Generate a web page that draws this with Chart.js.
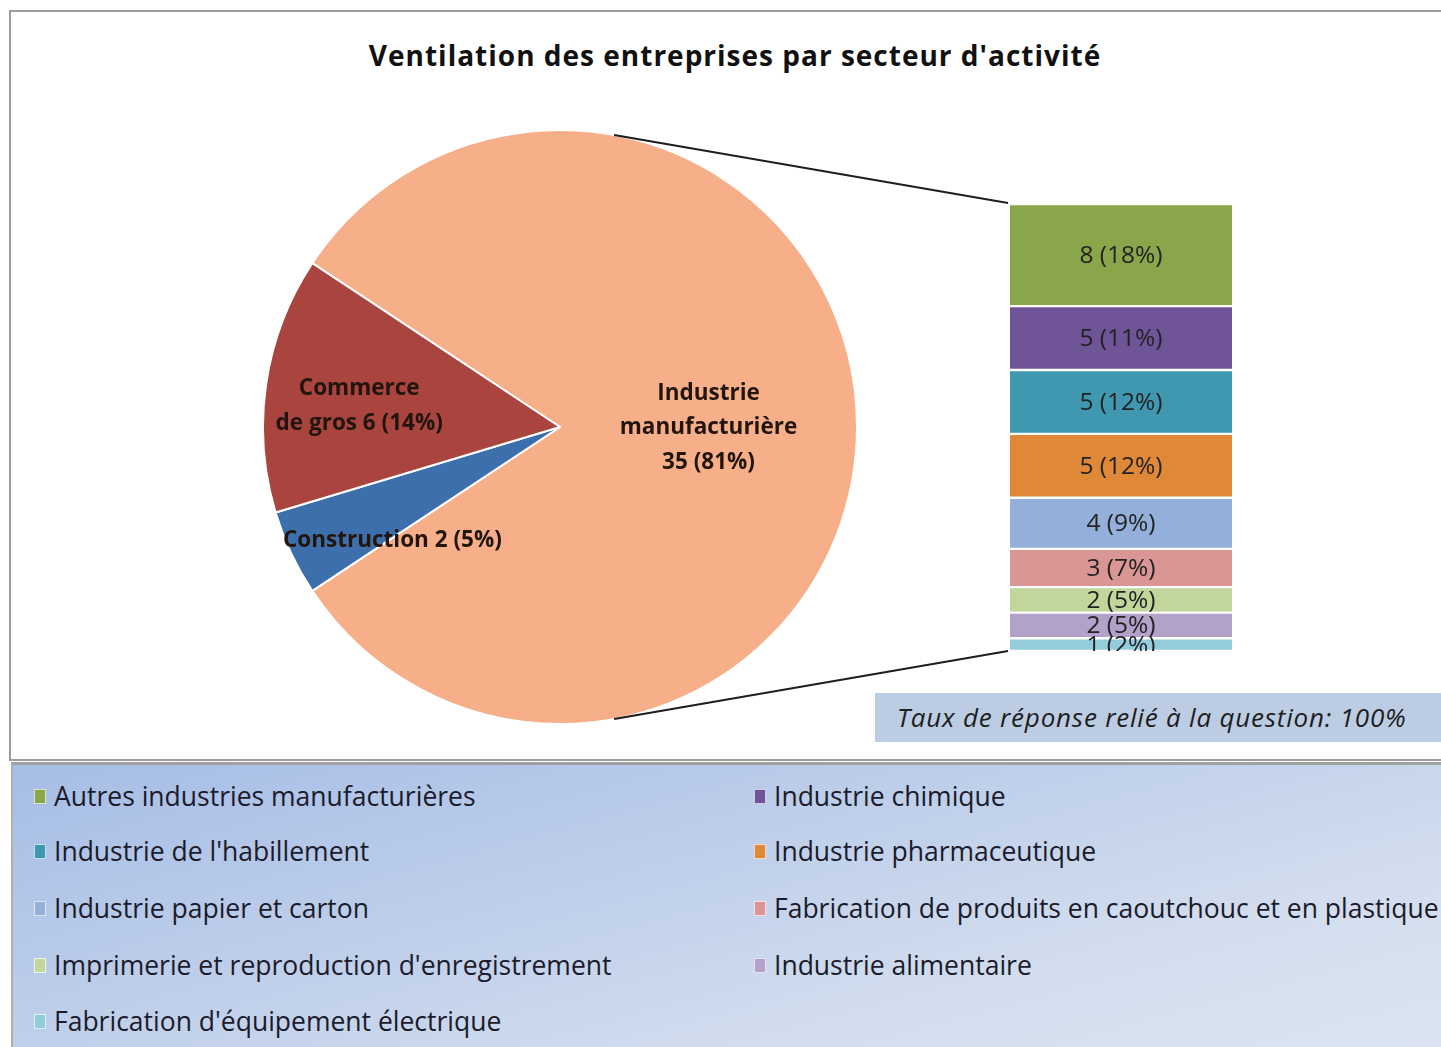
<!DOCTYPE html>
<html lang="fr">
<head>
<meta charset="utf-8">
<title>Ventilation des entreprises par secteur d'activité</title>
<script src="https://cdn.jsdelivr.net/npm/chart.js@4.4.1/dist/chart.umd.min.js"></script>
<style>
  html, body { margin: 0; padding: 0; background: #fff; width: 1441px; height: 1047px; overflow: hidden; }
  body { position: relative; font-family: "Open Sans", Lato, sans-serif; }
  #frame { position: absolute; left: 9px; top: 10px; width: 1460px; height: 751px; border: 2px solid #9c9c9c; box-sizing: border-box; }
  #title { position: absolute; left: 0; width: 1470px; top: 36px; text-align: center; font: bold 28px "Open Sans", sans-serif; letter-spacing: 1px; color: #111; }
  #pieCanvas { position: absolute; left: 262px; top: 129px; }
  #barCanvas { position: absolute; left: 1010px; top: 204px; }
  #overlay { position: absolute; left: 0; top: 0; pointer-events: none; }
  #note { position: absolute; left: 875px; top: 693px; width: 600px; height: 49px; background: #bccde3; font: italic 26px "Open Sans", sans-serif; letter-spacing: 0.8px; line-height: 49px; padding-left: 22px; color: #1e1e1e; box-sizing: border-box; }
  #legend { position: absolute; left: 11px; top: 762px; width: 1460px; height: 300px; border-top: 3px solid #a0a0a0; border-left: 2px solid #b0b0b0; background: linear-gradient(165deg, #a6bde6 0%, #bccdea 35%, #d2ddee 70%, #dde5f1 100%); box-sizing: border-box; }
  .li { position: absolute; height: 30px; display: flex; align-items: center; font: 26.5px "Open Sans", sans-serif; color: #1b1b2b; white-space: nowrap; }
  .li .sw { width: 10px; height: 13px; margin-right: 8px; border: 1px solid rgba(255,255,255,0.7); }
</style>
</head>
<body>
<div id="frame"></div>
<div id="title">Ventilation des entreprises par secteur d'activité</div>
<canvas id="pieCanvas" width="596" height="596"></canvas>
<canvas id="barCanvas" width="222" height="447"></canvas>
<div id="note">Taux de réponse relié à la question: 100%</div>
<div id="legend"></div>
<canvas id="overlay" width="1441" height="1047"></canvas>
<script>
// ---------- DATA ----------
const pieCategories = ["Industrie manufacturière", "Construction", "Commerce de gros"];
const pieValues = [35, 2, 6];
const piePercents = [81, 5, 14];

const barCategories = [
  "Autres industries manufacturières",
  "Industrie chimique",
  "Industrie de l'habillement",
  "Industrie pharmaceutique",
  "Industrie papier et carton",
  "Fabrication de produits en caoutchouc et en plastique",
  "Imprimerie et reproduction d'enregistrement",
  "Industrie alimentaire",
  "Fabrication d'équipement électrique"
];
const barValues = [8, 5, 5, 5, 4, 3, 2, 2, 1];
const barPercents = [18, 11, 12, 12, 9, 7, 5, 5, 2];

// ---------- STYLE ----------
const FONT = '"Open Sans", Lato, sans-serif';
const pieColors = ["#f6af88", "#3d6fac", "#a9443f"];
const barColors = ["#8aa64b", "#6f5497", "#3f98b0", "#df8838", "#93afda", "#d99694", "#c1d69a", "#b2a1c8", "#93cddc"];
// label wrapping / placement per slice (style only)
const pieLabelBreaks = [
  { nameBreak: true, valueBreak: true, radial: 0.5, shiftDeg: 0 },
  { nameBreak: false, valueBreak: false, radial: 0.68, shiftDeg: -8.8 },
  { nameBreak: true, valueBreak: false, radial: 0.68, shiftDeg: -2.2 }
];

Chart.defaults.font.family = FONT;

const pieTotal = pieValues.reduce((a, b) => a + b, 0);
const manuSpanDeg = pieValues[0] / pieTotal * 360;

const pieLabelPlugin = {
  id: 'pieLabels',
  afterDatasetsDraw(chart) {
    const ctx = chart.ctx;
    const meta = chart.getDatasetMeta(0);
    ctx.save();
    ctx.font = 'bold 22.5px ' + FONT;
    ctx.fillStyle = '#22150e';
    ctx.textAlign = 'center';
    ctx.textBaseline = 'middle';
    meta.data.forEach((arc, i) => {
      const p = arc.getProps(['x', 'y', 'startAngle', 'endAngle', 'outerRadius'], true);
      const cfg = pieLabelBreaks[i];
      const mid = (p.startAngle + p.endAngle) / 2 + cfg.shiftDeg * Math.PI / 180;
      const r = p.outerRadius * cfg.radial;
      const cx = p.x + Math.cos(mid) * r;
      const cy = p.y + Math.sin(mid) * r;
      const name = pieCategories[i];
      const val = pieValues[i] + ' (' + piePercents[i] + '%)';
      let lines;
      const words = name.split(' ');
      if (cfg.nameBreak) {
        const first = words[0];
        const rest = words.slice(1).join(' ');
        lines = cfg.valueBreak ? [first, rest, val] : [first, rest + ' ' + val];
      } else {
        lines = [name + ' ' + val];
      }
      const lh = 34.5;
      lines.forEach((ln, k) => {
        ctx.fillText(ln, cx, cy + (k - (lines.length - 1) / 2) * lh + 1);
      });
    });
    ctx.restore();
  }
};

const pieChart = new Chart(document.getElementById('pieCanvas'), {
  type: 'pie',
  data: {
    labels: pieCategories,
    datasets: [{
      data: pieValues,
      backgroundColor: pieColors,
      borderColor: '#ffffff',
      borderWidth: 2
    }]
  },
  options: {
    responsive: false,
    devicePixelRatio: 1,
    animation: false,
    rotation: 90 - manuSpanDeg / 2,
    layout: { padding: 0 },
    plugins: { legend: { display: false }, tooltip: { enabled: false } }
  },
  plugins: [pieLabelPlugin]
});

const barTotal = barValues.reduce((a, b) => a + b, 0);

const barLabelPlugin = {
  id: 'barLabels',
  afterDatasetsDraw(chart) {
    const ctx = chart.ctx;
    ctx.save();
    ctx.font = '24.5px ' + FONT;
    ctx.fillStyle = '#222';
    ctx.textAlign = 'center';
    ctx.textBaseline = 'middle';
    chart.data.datasets.forEach((ds, i) => {
      const el = chart.getDatasetMeta(i).data[0];
      const p = el.getProps(['x', 'y', 'base'], true);
      ctx.fillText(barValues[i] + ' (' + barPercents[i] + '%)', p.x, (p.y + p.base) / 2 + 1);
    });
    ctx.restore();
  }
};

const barChart = new Chart(document.getElementById('barCanvas'), {
  type: 'bar',
  data: {
    labels: ['Industrie manufacturière'],
    datasets: barCategories.map((name, i) => ({
      label: name,
      data: [barValues[i]],
      backgroundColor: barColors[i],
      borderColor: '#ffffff',
      borderWidth: { top: 1.5, bottom: 1.5, left: 0, right: 0 },
      borderSkipped: false,
      barPercentage: 1,
      categoryPercentage: 1
    }))
  },
  options: {
    responsive: false,
    devicePixelRatio: 1,
    animation: false,
    layout: { padding: 0 },
    scales: {
      x: { display: false, stacked: true },
      y: { display: false, stacked: true, reverse: true, min: 0, max: barTotal }
    },
    plugins: { legend: { display: false }, tooltip: { enabled: false } }
  },
  plugins: [barLabelPlugin]
});

// ---------- connectors ----------
function drawConnectors() {
  const ov = document.getElementById('overlay');
  const ctx = ov.getContext('2d');
  ctx.clearRect(0, 0, ov.width, ov.height);
  const pc = document.getElementById('pieCanvas');
  const bc = document.getElementById('barCanvas');
  const arc = pieChart.getDatasetMeta(0).data[0].getProps(['x', 'y', 'outerRadius'], true);
  const px = pc.offsetLeft + arc.x, py = pc.offsetTop + arc.y, r = arc.outerRadius;
  const ang = 79.5 * Math.PI / 180;
  const first = barChart.getDatasetMeta(0).data[0].getProps(['x', 'y', 'base', 'width'], true);
  const last = barChart.getDatasetMeta(barValues.length - 1).data[0].getProps(['x', 'y', 'base', 'width'], true);
  const bx = bc.offsetLeft + first.x - first.width / 2;
  const topY = bc.offsetTop + Math.min(first.y, first.base);
  const botY = bc.offsetTop + Math.max(last.y, last.base);
  ctx.strokeStyle = '#1e1e1e';
  ctx.lineWidth = 2;
  ctx.beginPath();
  ctx.moveTo(px + Math.cos(-ang) * r, py + Math.sin(-ang) * r);
  ctx.lineTo(bx - 2, topY - 1);
  ctx.moveTo(px + Math.cos(ang) * r, py + Math.sin(ang) * r);
  ctx.lineTo(bx - 2, botY);
  ctx.stroke();
}
drawConnectors();

// ---------- legend (HTML, from bar chart datasets) ----------
const legendEl = document.getElementById('legend');
const colX = [21, 741];
const rowY = [16, 71, 128, 185, 241];
barChart.data.datasets.forEach((ds, i) => {
  const item = document.createElement('div');
  item.className = 'li';
  item.style.left = colX[i % 2] + 'px';
  item.style.top = rowY[Math.floor(i / 2)] + 'px';
  const sw = document.createElement('span');
  sw.className = 'sw';
  sw.style.background = ds.backgroundColor;
  const tx = document.createElement('span');
  tx.textContent = ds.label;
  item.appendChild(sw);
  item.appendChild(tx);
  legendEl.appendChild(item);
});
</script>
</body>
</html>
